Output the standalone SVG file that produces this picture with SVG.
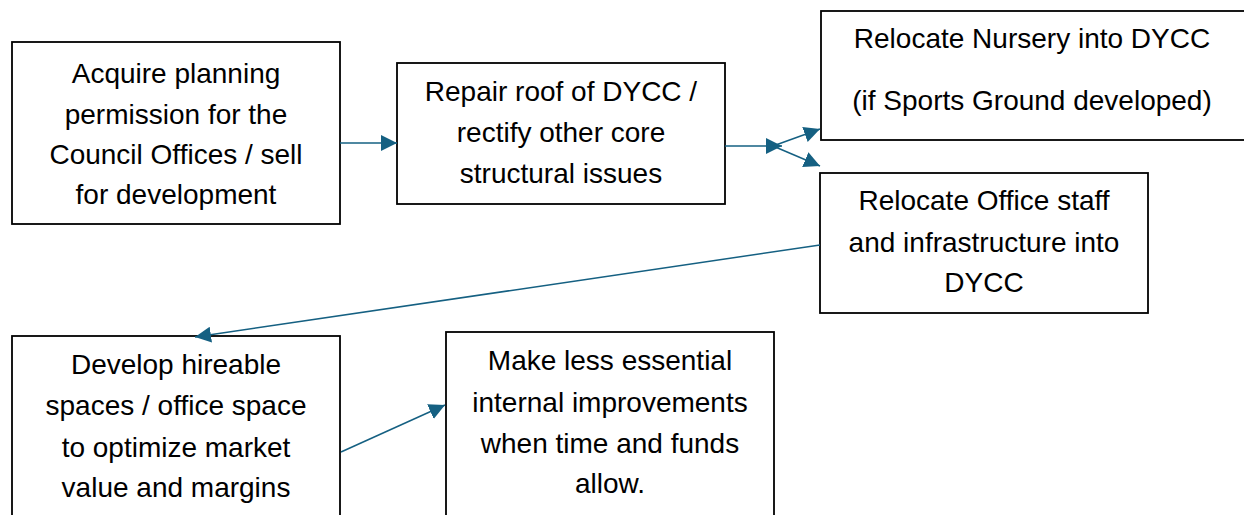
<svg xmlns="http://www.w3.org/2000/svg" width="1244" height="515" viewBox="0 0 1244 515">
<style>
.box{fill:#fff;stroke:#000;stroke-width:1.8}
.t{font-family:"Liberation Sans",Arial,sans-serif;font-size:28px;fill:#000;text-anchor:middle}
.c{stroke:#156082;stroke-width:1.5;fill:none;marker-end:url(#ah)}
</style>
<defs>
<marker id="ah" markerUnits="userSpaceOnUse" viewBox="0 0 16 16" markerWidth="16" markerHeight="16" refX="16" refY="8" orient="auto">
<path d="M0,0 L16,8 L0,16 z" fill="#156082"/>
</marker>
</defs>
<rect width="1244" height="515" fill="#fff"/>
<g id="n1">
<rect class="box" x="12" y="42" width="328" height="182"/>
<text class="t" x="176" y="83">Acquire planning</text>
<text class="t" x="176" y="124">permission for the</text>
<text class="t" x="176" y="164">Council Offices / sell</text>
<text class="t" x="176" y="204">for development</text>
</g>
<g id="n2">
<rect class="box" x="397" y="63" width="328" height="141"/>
<text class="t" x="561" y="101">Repair roof of DYCC /</text>
<text class="t" x="561" y="142">rectify other core</text>
<text class="t" x="561" y="183">structural issues</text>
</g>
<g id="n3">
<rect class="box" x="821" y="11" width="440" height="129"/>
<text class="t" x="1032" y="48">Relocate Nursery into DYCC</text>
<text class="t" x="1032" y="110">(if Sports Ground developed)</text>
</g>
<g id="n4">
<rect class="box" x="820" y="173" width="328" height="140"/>
<text class="t" x="984" y="210">Relocate Office staff</text>
<text class="t" x="984" y="252">and infrastructure into</text>
<text class="t" x="984" y="292">DYCC</text>
</g>
<g id="n5">
<rect class="box" x="12" y="336" width="328" height="190"/>
<text class="t" x="176" y="374">Develop hireable</text>
<text class="t" x="176" y="415">spaces / office space</text>
<text class="t" x="176" y="457">to optimize market</text>
<text class="t" x="176" y="497">value and margins</text>
</g>
<g id="n6">
<rect class="box" x="446" y="332" width="328" height="194"/>
<text class="t" x="610" y="370">Make less essential</text>
<text class="t" x="610" y="412">internal improvements</text>
<text class="t" x="610" y="453">when time and funds</text>
<text class="t" x="610" y="493">allow.</text>
</g>
<g id="connectors">
<line class="c" x1="340" y1="143" x2="397" y2="143"/>
<line class="c" x1="725" y1="146" x2="782" y2="146"/>
<line class="c" x1="773" y1="146" x2="820" y2="129"/>
<line class="c" x1="773" y1="146" x2="820" y2="166"/>
<line class="c" x1="820" y1="245" x2="195" y2="337"/>
<line class="c" x1="341" y1="452" x2="445" y2="405"/>
</g>
</svg>
